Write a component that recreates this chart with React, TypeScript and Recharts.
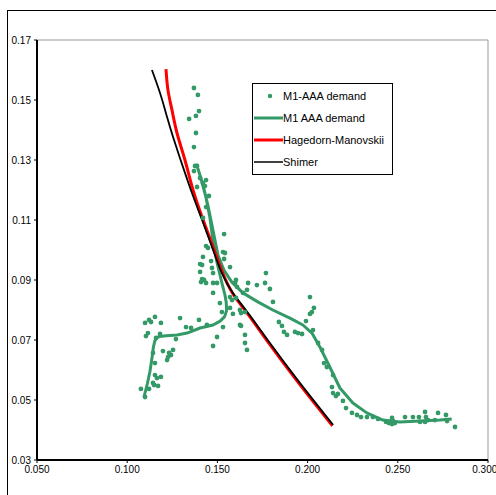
import React from 'react';
import { ComposedChart, Line, Scatter, XAxis, YAxis, ReferenceLine } from 'recharts';

type Pt = [number, number];

const xTicks = [0.05, 0.1, 0.15, 0.2, 0.25, 0.3];
const yTicks = [0.03, 0.05, 0.07, 0.09, 0.11, 0.13, 0.15, 0.17];

// observations, grouped roughly by where they sit on the chart
const dotsUpper: Pt[] = [
  [0.137, 0.154], [0.1392, 0.1517], [0.1398, 0.1463], [0.1381, 0.1447], [0.1343, 0.1437],
  [0.1381, 0.139], [0.137, 0.1343], [0.1376, 0.128], [0.1387, 0.128], [0.137, 0.1263],
  [0.1404, 0.124], [0.142, 0.1223], [0.1437, 0.1233], [0.1387, 0.121], [0.1431, 0.1213],
  [0.1453, 0.118], [0.1437, 0.1143], [0.142, 0.1107], [0.1537, 0.1053], [0.1437, 0.1013],
  [0.1448, 0.1007], [0.1531, 0.0993], [0.1542, 0.099], [0.142, 0.0977], [0.1465, 0.0963],
  [0.1537, 0.097], [0.1404, 0.0953], [0.1415, 0.095], [0.157, 0.0943], [0.147, 0.094],
  [0.1404, 0.0927], [0.1476, 0.0923], [0.1415, 0.0903], [0.1426, 0.09], [0.1437, 0.089],
  [0.1409, 0.0893], [0.1476, 0.089], [0.1498, 0.089], [0.1603, 0.09], [0.1609, 0.0877],
  [0.1476, 0.0857], [0.157, 0.0843], [0.1581, 0.0833], [0.1642, 0.0857], [0.1664, 0.0867],
  [0.1514, 0.0823], [0.1603, 0.084], [0.1525, 0.0793], [0.157, 0.0807], [0.1625, 0.08],
  [0.1653, 0.0793], [0.1586, 0.0787], [0.1625, 0.075], [0.1653, 0.0717], [0.1653, 0.069],
  [0.1664, 0.0667], [0.1531, 0.0743], [0.1498, 0.071], [0.1476, 0.068],
];

const dotsLowerLeft: Pt[] = [
  [0.1099, 0.0757], [0.1121, 0.0767], [0.1154, 0.0777], [0.1132, 0.076], [0.1187, 0.0757],
  [0.1293, 0.0773], [0.1326, 0.0743], [0.1354, 0.074], [0.1398, 0.0767], [0.1442, 0.075],
  [0.1115, 0.0723], [0.1104, 0.0713], [0.1182, 0.072], [0.116, 0.0707], [0.127, 0.0703],
  [0.1143, 0.0657], [0.1198, 0.0663], [0.1232, 0.0657], [0.1254, 0.0667], [0.1243, 0.065],
  [0.1154, 0.0623], [0.1221, 0.0633], [0.1226, 0.0643], [0.1154, 0.0583], [0.1165, 0.0573],
  [0.1187, 0.0577], [0.1149, 0.055], [0.1171, 0.0547], [0.1121, 0.0537], [0.1076, 0.0537],
  [0.1099, 0.051], [0.1143, 0.0557],
];

const dotsRight: Pt[] = [
  [0.1598, 0.089], [0.167, 0.089], [0.1719, 0.0883], [0.1764, 0.089], [0.1769, 0.0923],
  [0.1791, 0.087], [0.1808, 0.0827], [0.1631, 0.079], [0.1631, 0.0747], [0.1841, 0.076],
  [0.1858, 0.0747], [0.1869, 0.0727], [0.1886, 0.0717], [0.193, 0.0727], [0.1947, 0.0723],
  [0.1969, 0.072], [0.1991, 0.0763], [0.2013, 0.0787], [0.2024, 0.0793], [0.2035, 0.0807],
  [0.2013, 0.0843], [0.203, 0.0733], [0.2058, 0.069], [0.208, 0.0667], [0.2091, 0.0623],
  [0.2107, 0.061], [0.2141, 0.0583], [0.2135, 0.0543], [0.2141, 0.0523], [0.2157, 0.0513],
  [0.2168, 0.052], [0.2196, 0.0497], [0.2213, 0.0473], [0.2246, 0.0457], [0.2274, 0.045],
  [0.2296, 0.0443], [0.2329, 0.0443], [0.2362, 0.0443], [0.239, 0.0437], [0.2435, 0.0427],
  [0.2451, 0.0423], [0.2468, 0.042], [0.2473, 0.043], [0.2484, 0.0423], [0.2468, 0.044],
  [0.254, 0.0443], [0.2584, 0.0443], [0.2617, 0.0443], [0.2651, 0.046], [0.2656, 0.0443],
  [0.2667, 0.0433], [0.2651, 0.0427], [0.2623, 0.0427], [0.2706, 0.0433], [0.2723, 0.0457],
  [0.2767, 0.045], [0.2773, 0.043], [0.2817, 0.041],
];

// smoothed M1 path, in time order (goes up the middle and comes back down)
const m1Path: Pt[] = [
  [0.1093, 0.051], [0.1112, 0.0555], [0.1126, 0.0595], [0.1137, 0.0638], [0.1145, 0.0675],
  [0.1152, 0.0695], [0.1162, 0.0707], [0.118, 0.0712], [0.1215, 0.0714], [0.1276, 0.0717],
  [0.1332, 0.0723], [0.1404, 0.074], [0.1476, 0.075], [0.1515, 0.0763], [0.154, 0.0778],
  [0.1551, 0.0798], [0.1549, 0.0825], [0.1542, 0.085], [0.1525, 0.089], [0.1497, 0.096],
  [0.1475, 0.1033], [0.1458, 0.111], [0.1436, 0.1177], [0.1408, 0.124], [0.1386, 0.1283],
  [0.142, 0.1217], [0.1447, 0.115], [0.1475, 0.1067], [0.1503, 0.0983], [0.1536, 0.0933],
  [0.158, 0.0893], [0.1641, 0.0857], [0.1724, 0.0827], [0.1807, 0.08], [0.1902, 0.0773],
  [0.1974, 0.075], [0.2024, 0.0723], [0.2068, 0.0677], [0.2123, 0.061], [0.2179, 0.054],
  [0.2251, 0.049], [0.2328, 0.0457], [0.2417, 0.0433], [0.2511, 0.0427], [0.2622, 0.043],
  [0.2733, 0.0433], [0.2799, 0.0437],
];

const hmPath: Pt[] = [
  [0.1215, 0.1603], [0.1226, 0.1533], [0.1248, 0.1467], [0.1276, 0.139], [0.132, 0.13],
  [0.1365, 0.12], [0.1415, 0.111], [0.147, 0.102], [0.1525, 0.093], [0.1584, 0.0856],
  [0.1667, 0.0788], [0.1788, 0.0687], [0.1954, 0.0554], [0.2138, 0.0414],
];

const shimerPath: Pt[] = [
  [0.1137, 0.16], [0.1182, 0.1523], [0.1221, 0.1443], [0.1254, 0.1377], [0.1309, 0.1277],
  [0.1359, 0.119], [0.1415, 0.11], [0.147, 0.101], [0.1525, 0.0923], [0.1586, 0.0857],
  [0.167, 0.079], [0.1791, 0.069], [0.1957, 0.0557], [0.2141, 0.0417],
];

const rows = (pts: Pt[]) => pts.map(([x, y]) => ({ x, y }));

const GREEN = '#339966';
const font = 'Arial, "Liberation Sans", sans-serif';

const legendItems = [
  { label: 'M1-AAA demand', kind: 'dot', color: GREEN, w: 0 },
  { label: 'M1 AAA demand', kind: 'line', color: GREEN, w: 3 },
  { label: 'Hagedorn-Manovskii', kind: 'line', color: '#ff0000', w: 3 },
  { label: 'Shimer', kind: 'line', color: '#000000', w: 1.5 },
];

const LegendBox = () => (
  <div
    style={{
      position: 'absolute',
      left: 252,
      top: 83,
      border: '1px solid #000',
      background: '#fff',
      width: 141,
      height: 92,
      paddingTop: 1,
      boxSizing: 'border-box',
      fontFamily: font,
      fontSize: 11,
      color: '#000',
    }}
  >
    {legendItems.map((it) => (
      <div key={it.label} style={{ height: 22, display: 'flex', alignItems: 'center' }}>
        <svg width={30} height={10} style={{ flex: 'none' }}>
          {it.kind === 'dot' ? (
            <circle cx={17} cy={5} r={2.2} fill={it.color} />
          ) : (
            <line x1={1} y1={5} x2={30} y2={5} stroke={it.color} strokeWidth={it.w} />
          )}
        </svg>
        <span style={{ whiteSpace: 'nowrap' }}>{it.label}</span>
      </div>
    ))}
  </div>
);

const Dot = (props: any) => <circle cx={props.cx} cy={props.cy} r={2.4} fill={GREEN} />;

export default function App() {
  const tickStyle = { fill: '#000', fontSize: 10, fontFamily: font };
  return (
    <div style={{ position: 'absolute', left: 0, top: 0, width: 496, height: 495, background: '#fff', overflow: 'hidden' }}>
      <div
        style={{
          position: 'absolute',
          left: 7,
          top: 10,
          width: 600,
          height: 600,
          borderLeft: '1.5px solid #000',
          borderTop: '1.5px solid #000',
        }}
      />
      <div style={{ position: 'absolute', left: 0, top: 0 }}>
        <ComposedChart width={496} height={495} margin={{ top: 40, right: 8, bottom: 0, left: 0 }}>
          <XAxis
            type="number"
            dataKey="x"
            domain={[0.05, 0.3]}
            ticks={xTicks}
            allowDataOverflow
            tickFormatter={(v: number) => v.toFixed(3)}
            height={35}
            tickSize={3}
            tickMargin={3}
            tick={tickStyle}
            axisLine={{ stroke: '#000', strokeWidth: 2 }}
            tickLine={{ stroke: '#000' }}
          />
          <YAxis
            type="number"
            dataKey="y"
            domain={[0.03, 0.17]}
            ticks={yTicks}
            allowDataOverflow
            tickFormatter={(v: number) => v.toFixed(2)}
            width={37}
            tickSize={3}
            tickMargin={3}
            tick={tickStyle}
            axisLine={{ stroke: '#000', strokeWidth: 2 }}
            tickLine={{ stroke: '#000' }}
          />
          <ReferenceLine y={0.17} stroke="#999" strokeWidth={1} />
          <ReferenceLine x={0.3} stroke="#999" strokeWidth={1} />
          <Scatter
            name="M1-AAA demand"
            data={rows([...dotsUpper, ...dotsLowerLeft, ...dotsRight])}
            dataKey="y"
            shape={Dot}
            isAnimationActive={false}
          />
          <Line
            name="M1 AAA demand"
            data={rows(m1Path)}
            dataKey="y"
            type="linear"
            stroke={GREEN}
            strokeWidth={3}
            strokeLinejoin="round"
            dot={false}
            activeDot={false}
            isAnimationActive={false}
          />
          <Line
            name="Hagedorn-Manovskii"
            data={rows(hmPath)}
            dataKey="y"
            type="natural"
            stroke="#ff0000"
            strokeWidth={3}
            dot={false}
            activeDot={false}
            isAnimationActive={false}
          />
          <Line
            name="Shimer"
            data={rows(shimerPath)}
            dataKey="y"
            type="natural"
            stroke="#000"
            strokeWidth={1.8}
            dot={false}
            activeDot={false}
            isAnimationActive={false}
          />
        </ComposedChart>
      </div>
      <LegendBox />
    </div>
  );
}
